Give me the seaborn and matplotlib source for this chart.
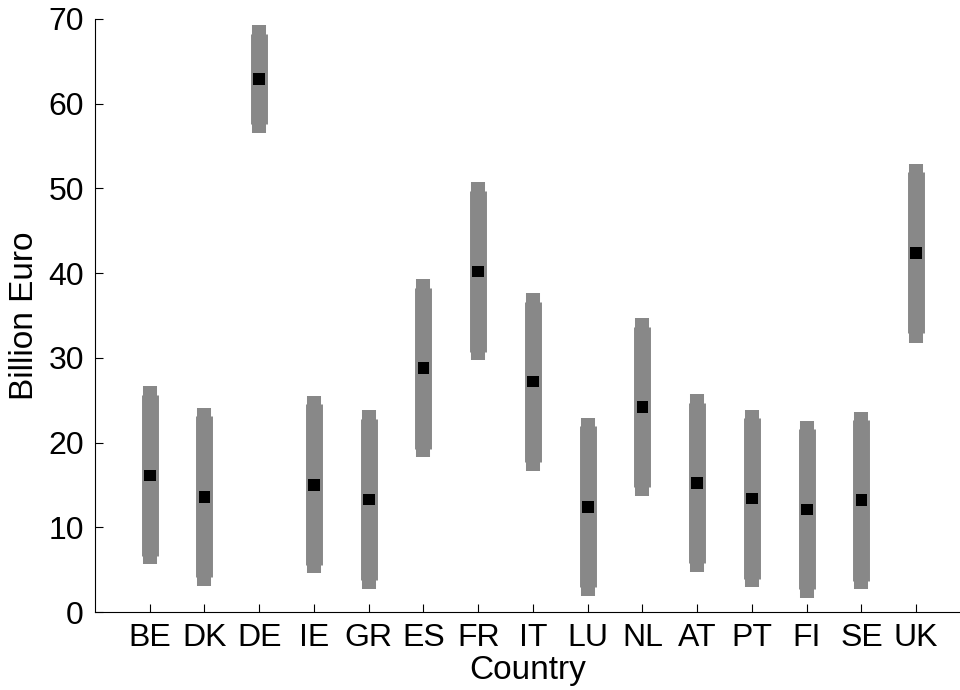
import matplotlib
matplotlib.use("Agg")
import matplotlib.pyplot as plt
import seaborn as sns
import numpy as np
import pandas as pd

# Datos (miles de millones de euros)
paises = ['BE', 'DK', 'DE', 'IE', 'GR', 'ES', 'FR', 'IT', 'LU', 'NL', 'AT', 'PT', 'FI', 'SE', 'UK']
mediana = [16.1, 13.6, 62.9, 15.0, 13.3, 28.8, 40.2, 27.2, 12.4, 24.2, 15.2, 13.4, 12.1, 13.2, 42.4]
interior_min = [6.65, 4.1, 57.6, 5.55, 3.8, 19.3, 30.7, 17.7, 2.9, 14.7, 5.75, 3.9, 2.7, 3.7, 32.9]
interior_max = [25.6, 23.1, 68.2, 24.55, 22.75, 38.3, 49.7, 36.6, 21.9, 33.6, 24.7, 22.85, 21.6, 22.7, 51.9]
exterior_min = [5.7, 3.1, 56.5, 4.6, 2.7, 18.3, 29.7, 16.7, 1.9, 13.7, 4.75, 2.9, 1.6, 2.7, 31.8]
exterior_max = [26.7, 24.1, 69.3, 25.5, 23.8, 39.3, 50.7, 37.6, 22.9, 34.7, 25.7, 23.9, 22.6, 23.65, 52.9]

sns.set_theme(style="ticks")
plt.rcParams['font.family'] = ['Liberation Sans', 'DejaVu Sans']
plt.rcParams['text.color'] = 'black'
plt.rcParams['axes.labelcolor'] = 'black'
plt.rcParams['xtick.color'] = 'black'
plt.rcParams['ytick.color'] = 'black'

df = pd.DataFrame({
    'pos': np.arange(1, len(paises) + 1),
    'pais': paises,
    'mediana': mediana,
})

fig = plt.figure(figsize=(9.6, 6.9), dpi=100)
ax = fig.add_axes([95 / 960, 78 / 690, 1 - 95 / 960, 593 / 690])

gris = '#888888'
ax.vlines(df['pos'], exterior_min, exterior_max, color=gris, linewidth=10.1, zorder=2)
ax.vlines(df['pos'], interior_min, interior_max, color=gris, linewidth=12.2, zorder=2)
sns.scatterplot(data=df, x='pos', y='mediana', marker='s', color='black', s=70,
                edgecolor='none', ax=ax, zorder=3)

ax.set_xlim(0, 15.8)
ax.set_ylim(0, 70)
ax.set_xticks(df['pos'])
ax.set_xticklabels(paises)
ax.set_yticks(np.arange(0, 71, 10))
ax.tick_params(direction='in', length=6, width=0.8, labelsize=23, pad=8)
ax.set_xlabel('Country', fontsize=24, labelpad=1)
ax.set_ylabel('Billion Euro', fontsize=24, labelpad=6)
for lado in ['top', 'right']:
    ax.spines[lado].set_visible(False)
for lado in ['left', 'bottom']:
    ax.spines[lado].set_linewidth(0.8)
    ax.spines[lado].set_color('black')

fig.savefig('out.png', dpi=100, facecolor='white')
